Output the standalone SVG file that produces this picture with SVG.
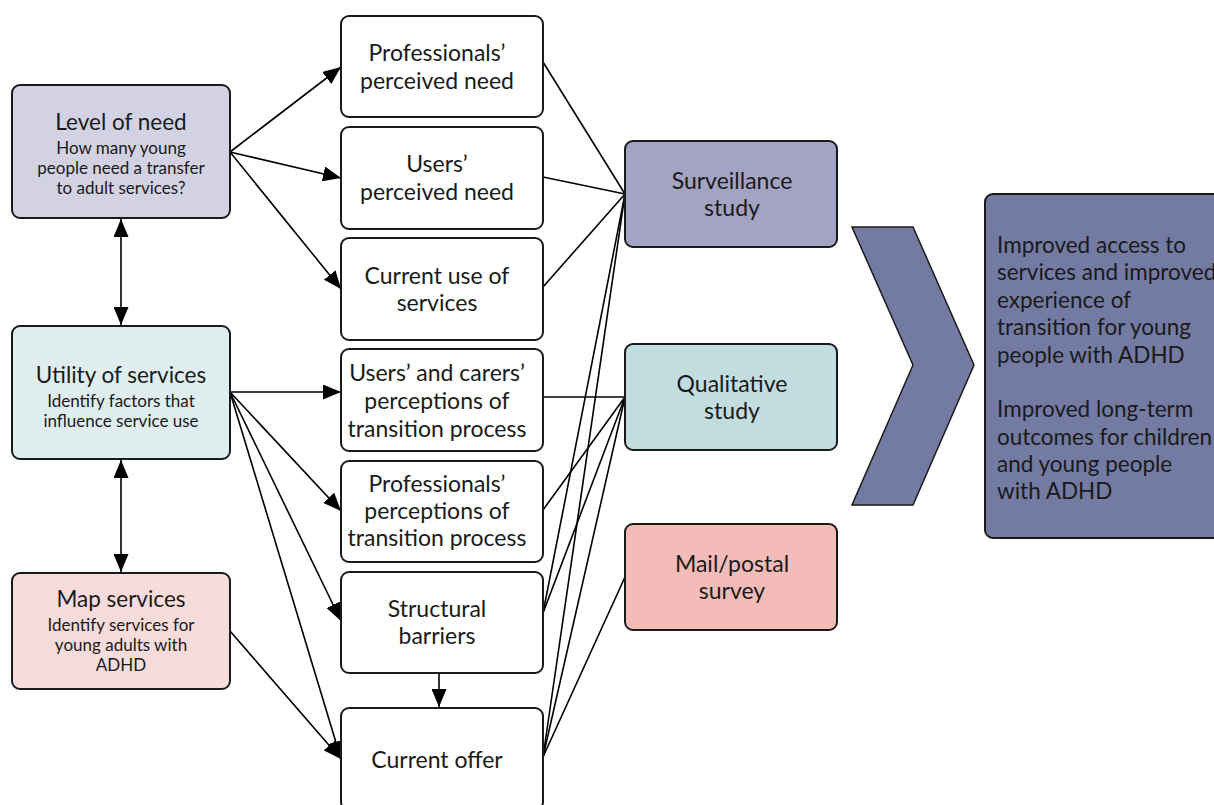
<svg xmlns="http://www.w3.org/2000/svg" width="1214" height="805" viewBox="0 0 1214 805">
<style>
.box{stroke:#1a1a1a;stroke-width:2}
.t{font-family:Lato,"Open Sans","Liberation Sans",sans-serif;fill:#1a1a1a;text-anchor:middle;dominant-baseline:central}
.big{font-size:22.5px}
.mid{font-size:23px}
.sm{font-size:17px}
.res{font-family:Lato,"Open Sans","Liberation Sans",sans-serif;fill:#1a1a1a;font-size:22.5px;dominant-baseline:central}
.ln{stroke:#000;stroke-width:1.6;fill:none}
.ar{stroke:#000;stroke-width:1.6;fill:none;marker-end:url(#ah)}
.dar{stroke:#000;stroke-width:1.6;fill:none;marker-end:url(#ah);marker-start:url(#ah)}
</style>
<defs>
<marker id="ah" markerUnits="userSpaceOnUse" markerWidth="19" markerHeight="15" refX="18" refY="7.5" orient="auto-start-reverse">
<path d="M0,0 L18,7.5 L0,15 z" fill="#000"/>
</marker>
</defs>
<rect width="1214" height="805" fill="#fff"/>

<g id="connectors">
<line class="dar" x1="121" y1="219" x2="121" y2="325"/>
<line class="dar" x1="121" y1="460" x2="121" y2="572"/>
<line class="ar" x1="230" y1="152" x2="341" y2="67"/>
<line class="ar" x1="230" y1="152" x2="341" y2="178"/>
<line class="ar" x1="230" y1="152" x2="341" y2="289"/>
<line class="ar" x1="230" y1="392" x2="341" y2="392"/>
<line class="ar" x1="230" y1="392" x2="341" y2="511"/>
<line class="ar" x1="230" y1="392" x2="341" y2="621"/>
<line class="ar" x1="230" y1="392" x2="341" y2="759"/>
<line class="ar" x1="230" y1="631" x2="341" y2="759"/>
<line class="ar" x1="439" y1="673" x2="439" y2="707"/>
<line class="ln" x1="543" y1="62" x2="625" y2="194"/>
<line class="ln" x1="543" y1="177" x2="625" y2="194"/>
<line class="ln" x1="543" y1="287" x2="625" y2="194"/>
<line class="ln" x1="543" y1="613" x2="625" y2="194"/>
<line class="ln" x1="543" y1="757" x2="625" y2="194"/>
<line class="ln" x1="543" y1="397" x2="625" y2="397"/>
<line class="ln" x1="543" y1="510" x2="625" y2="397"/>
<line class="ln" x1="543" y1="613" x2="625" y2="397"/>
<line class="ln" x1="543" y1="757" x2="625" y2="397"/>
<line class="ln" x1="543" y1="757" x2="625" y2="577"/>
</g>

<g id="level-of-need">
<rect class="box" x="12" y="85" width="218" height="133" rx="8" fill="#d3d2e3"/>
<text class="t big" x="121" y="121">Level of need</text>
<text class="t sm" x="121" y="147">How many young</text>
<text class="t sm" x="121" y="167">people need a transfer</text>
<text class="t sm" x="121" y="187">to adult services?</text>
</g>
<g id="utility-of-services">
<rect class="box" x="12" y="326" width="218" height="133" rx="8" fill="#dfedee"/>
<text class="t big" x="121" y="374">Utility of services</text>
<text class="t sm" x="121" y="400">Identify factors that</text>
<text class="t sm" x="121" y="420">influence service use</text>
</g>
<g id="map-services">
<rect class="box" x="12" y="573" width="218" height="116" rx="8" fill="#f8dcdb"/>
<text class="t big" x="121" y="598">Map services</text>
<text class="t sm" x="121" y="624">Identify services for</text>
<text class="t sm" x="121" y="644">young adults with</text>
<text class="t sm" x="121" y="664">ADHD</text>
</g>

<g id="professionals-perceived-need">
<rect class="box" x="341" y="16" width="202" height="101" rx="8" fill="#fff"/>
<text class="t mid" x="437" y="52">Professionals’</text>
<text class="t mid" x="437" y="80">perceived need</text>
</g>
<g id="users-perceived-need">
<rect class="box" x="341" y="127" width="202" height="102" rx="8" fill="#fff"/>
<text class="t mid" x="437" y="163">Users’</text>
<text class="t mid" x="437" y="191">perceived need</text>
</g>
<g id="current-use">
<rect class="box" x="341" y="238" width="202" height="102" rx="8" fill="#fff"/>
<text class="t mid" x="437" y="275">Current use of</text>
<text class="t mid" x="437" y="302">services</text>
</g>
<g id="users-carers-perceptions">
<rect class="box" x="341" y="349" width="202" height="102" rx="8" fill="#fff"/>
<text class="t mid" x="437" y="372">Users’ and carers’</text>
<text class="t mid" x="437" y="400">perceptions of</text>
<text class="t mid" x="437" y="428">transition process</text>
</g>
<g id="professionals-perceptions">
<rect class="box" x="341" y="461" width="202" height="101" rx="8" fill="#fff"/>
<text class="t mid" x="437" y="483">Professionals’</text>
<text class="t mid" x="437" y="510">perceptions of</text>
<text class="t mid" x="437" y="537">transition process</text>
</g>
<g id="structural-barriers">
<rect class="box" x="341" y="572" width="202" height="101" rx="8" fill="#fff"/>
<text class="t mid" x="437" y="608">Structural</text>
<text class="t mid" x="437" y="635">barriers</text>
</g>
<g id="current-offer">
<rect class="box" x="341" y="708" width="202" height="102" rx="8" fill="#fff"/>
<text class="t mid" x="437" y="759">Current offer</text>
</g>

<g id="surveillance-study">
<rect class="box" x="625" y="141" width="212" height="106" rx="8" fill="#a3a3c4"/>
<text class="t mid" x="732" y="180">Surveillance</text>
<text class="t mid" x="732" y="207">study</text>
</g>
<g id="qualitative-study">
<rect class="box" x="625" y="344" width="212" height="106" rx="8" fill="#c2dde0"/>
<text class="t mid" x="732" y="383">Qualitative</text>
<text class="t mid" x="732" y="410">study</text>
</g>
<g id="mail-survey">
<rect class="box" x="625" y="524" width="212" height="106" rx="8" fill="#f3bcb8"/>
<text class="t mid" x="732" y="563">Mail/postal</text>
<text class="t mid" x="732" y="590">survey</text>
</g>

<g id="chevron">
<polygon points="852,227 913,227 974,365 913,505 852,505 913,365" fill="#737ba3" stroke="#1a1a1a" stroke-width="1.5"/>
</g>

<g id="outcomes">
<rect class="box" x="985" y="194" width="240" height="344" rx="8" fill="#737ba3"/>
<text class="res" x="997" y="244">Improved access to</text>
<text class="res" x="997" y="271">services and improved</text>
<text class="res" x="997" y="299">experience of</text>
<text class="res" x="997" y="326">transition for young</text>
<text class="res" x="997" y="354">people with ADHD</text>
<text class="res" x="997" y="408">Improved long-term</text>
<text class="res" x="997" y="436">outcomes for children</text>
<text class="res" x="997" y="463">and young people</text>
<text class="res" x="997" y="490">with ADHD</text>
</g>
</svg>
